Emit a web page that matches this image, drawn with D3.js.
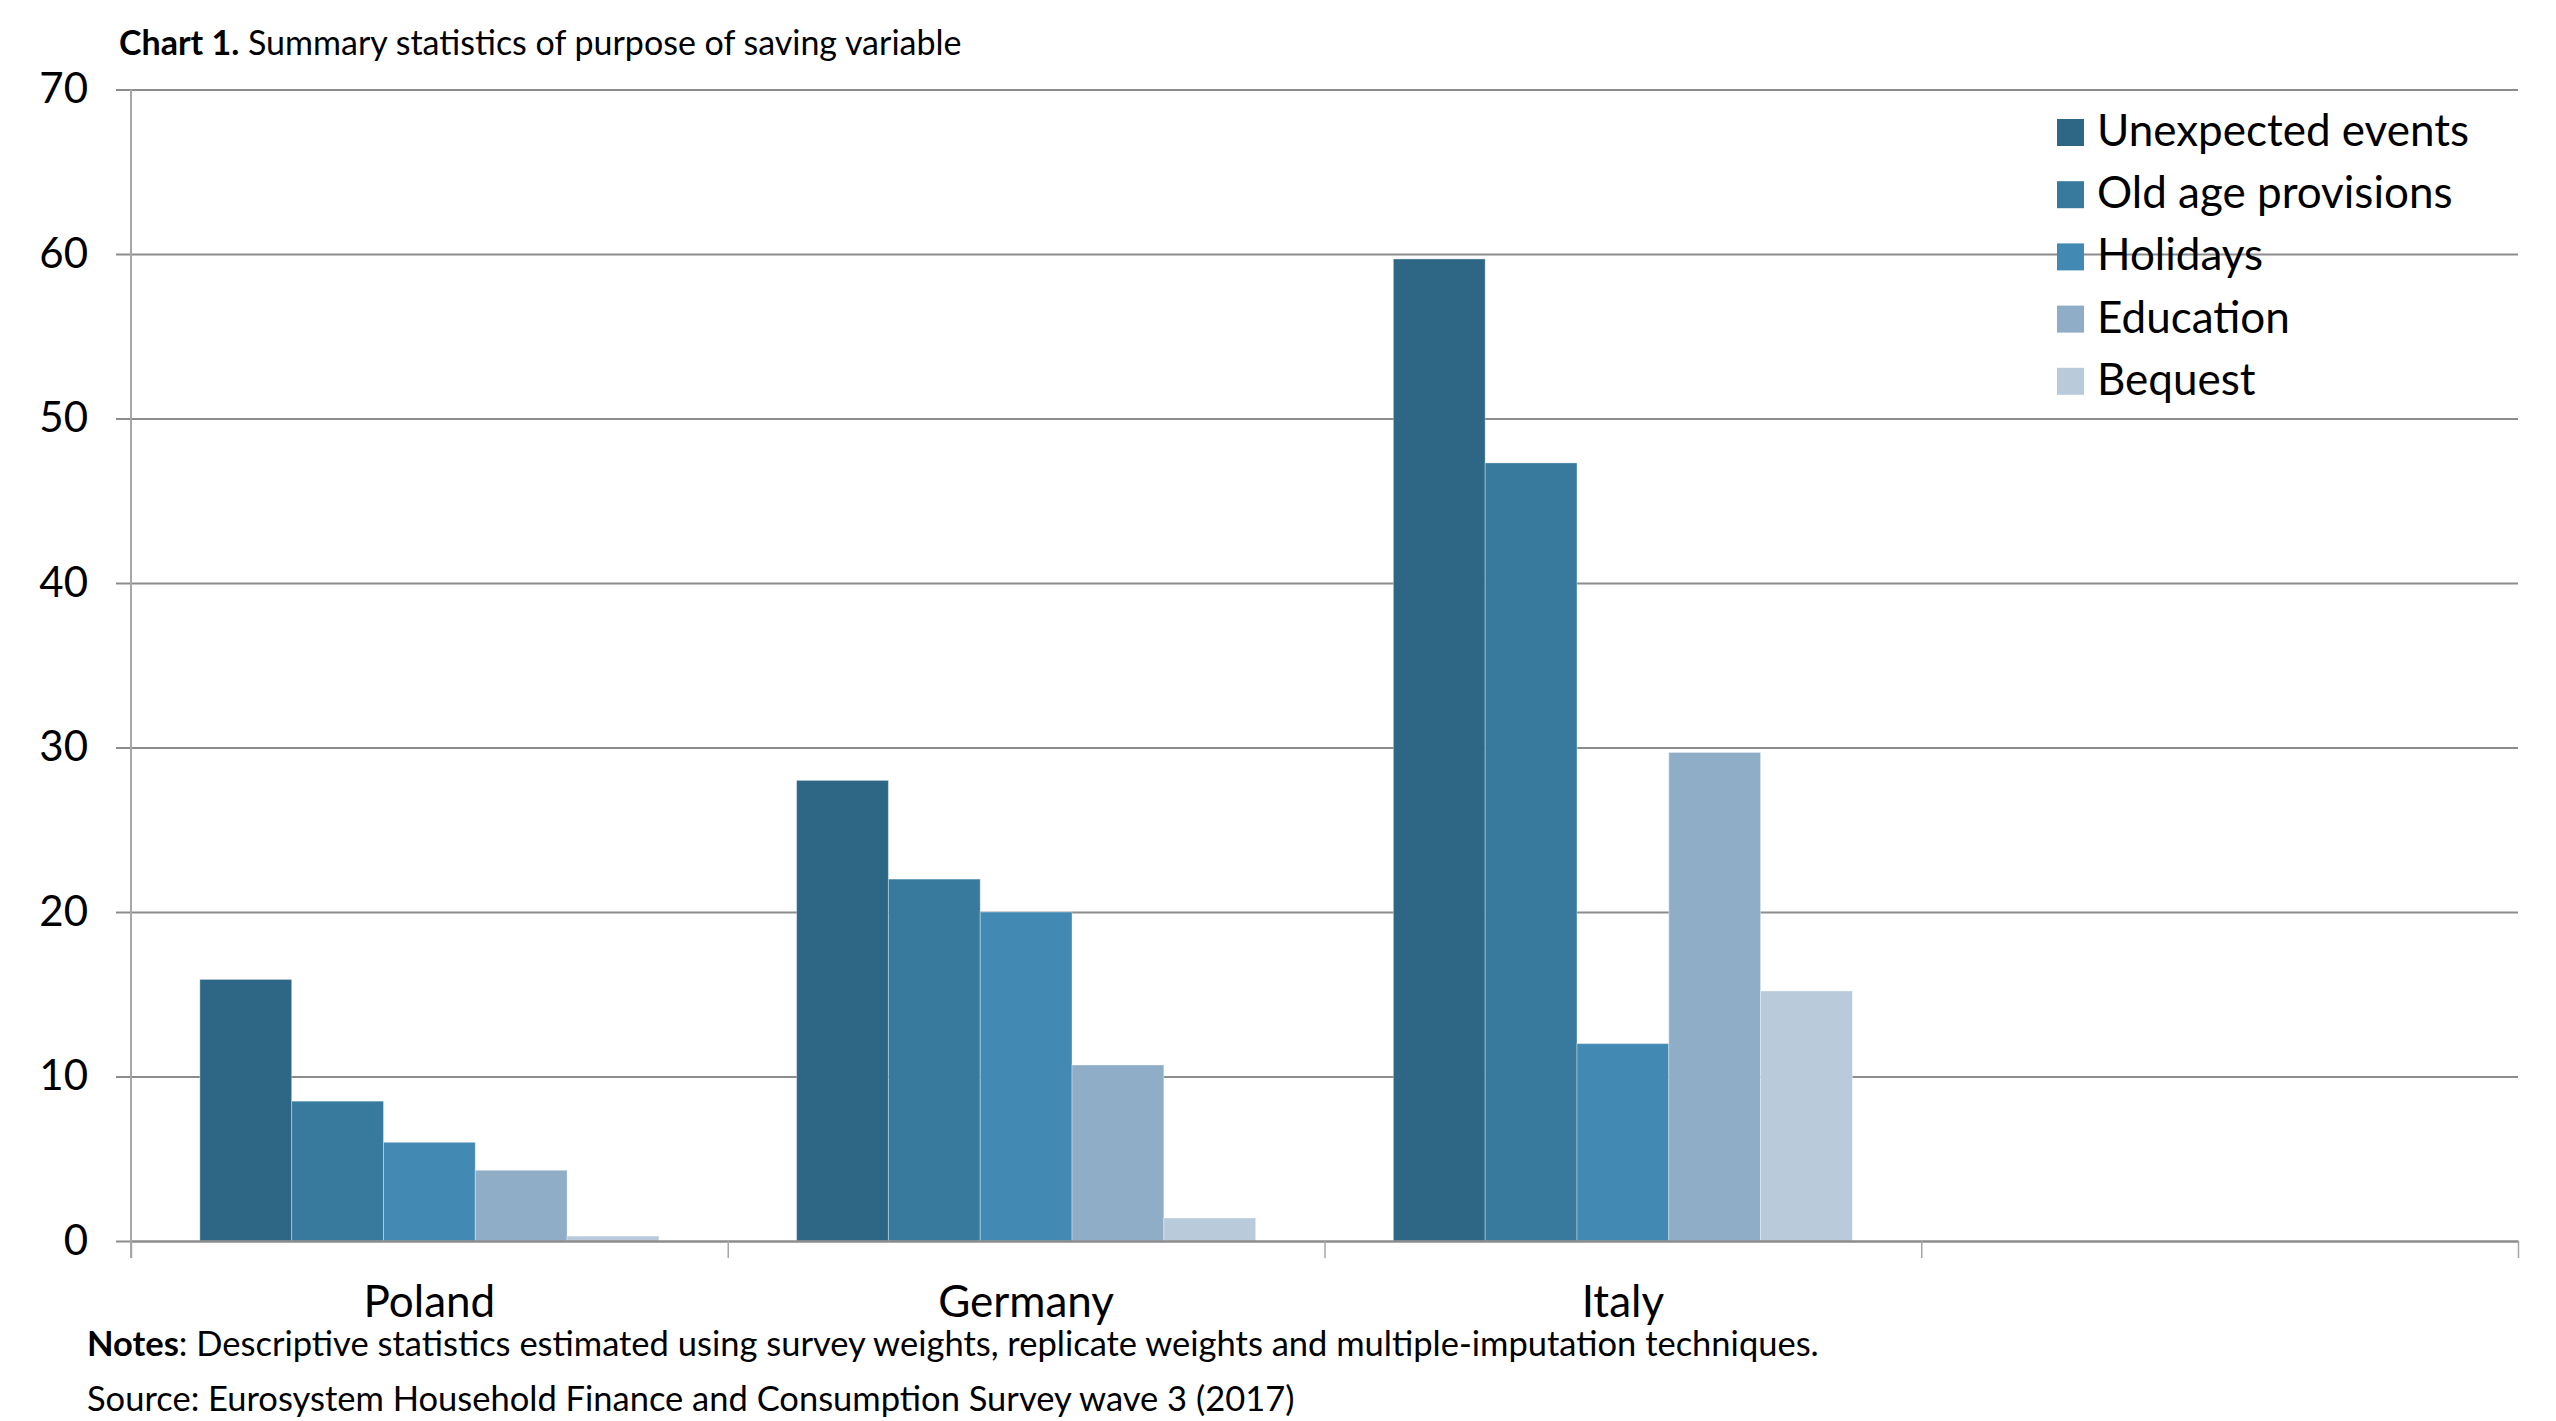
<!DOCTYPE html>
<html>
<head>
<meta charset="utf-8">
<script src="https://cdn.jsdelivr.net/npm/d3@7"></script>
<style>
  html, body { margin: 0; padding: 0; background: #ffffff; }
  svg { display: block; font-family: Lato, "Open Sans", sans-serif; }
</style>
</head>
<body>
<svg id="chart" width="2556" height="1421"></svg>
<script>
// ---- data ----
const categories = ["Poland", "Germany", "Italy", ""];
const seriesNames = ["Unexpected events", "Old age provisions", "Holidays", "Education", "Bequest"];
const unexpectedEvents = [15.9, 28.0, 59.7];
const oldAgeProvisions = [8.5, 22.0, 47.3];
const holidays = [6.0, 20.0, 12.0];
const education = [4.3, 10.7, 29.7];
const bequest = [0.3, 1.4, 15.2];
const yTicks = [0, 10, 20, 30, 40, 50, 60, 70];
const seriesColors = ["#2e6785", "#38799e", "#428ab4", "#8fadc7", "#b9cbda"];

const seriesValues = [unexpectedEvents, oldAgeProvisions, holidays, education, bequest];

// ---- layout ----
const svg = d3.select("#chart");
const plotLeft = 131, plotRight = 2518, plotTop = 89.5, plotBottom = 1241;
const gridColor = "#8c8c8c";

const x0 = d3.scaleBand().domain(categories).range([plotLeft, plotRight]).paddingInner(0).paddingOuter(0);
const x1 = d3.scaleBand().domain(seriesNames).range([0, x0.bandwidth()]).paddingInner(0).paddingOuter(0.75);
const y = d3.scaleLinear().domain([0, 70]).range([plotBottom, plotTop]);
const xEdge = d3.scaleLinear().domain([0, categories.length]).range([plotLeft, plotRight]);

// gridlines
const grid = svg.append("g").attr("transform", `translate(${plotLeft},0)`)
  .call(d3.axisRight(y).tickValues(yTicks.filter(v => v > 0)).tickSize(plotRight - plotLeft).tickFormat(""));
grid.select(".domain").remove();
grid.selectAll("line").attr("stroke", gridColor).attr("stroke-width", 2);

// bars
const groups = svg.append("g").selectAll("g")
  .data(categories.slice(0, unexpectedEvents.length))
  .join("g")
  .attr("transform", d => `translate(${x0(d)},0)`);

groups.selectAll("rect")
  .data((d, i) => seriesNames.map((s, j) => ({ s, j, v: seriesValues[j][i] })))
  .join("rect")
  .attr("x", d => x1(d.s))
  .attr("width", x1.bandwidth())
  .attr("y", d => y(d.v))
  .attr("height", d => y(0) - y(d.v))
  .attr("fill", d => seriesColors[d.j])
  .attr("stroke", "#ffffff")
  .attr("stroke-opacity", 0.35)
  .attr("stroke-width", 1);

// x axis baseline and edge ticks
const xEdgeAxis = svg.append("g").attr("transform", `translate(0,${plotBottom})`)
  .call(d3.axisBottom(xEdge).ticks(categories.length).tickSize(17).tickSizeOuter(0).tickFormat(""));
xEdgeAxis.select(".domain").attr("stroke", gridColor).attr("stroke-width", 2.5);
xEdgeAxis.selectAll(".tick line").attr("stroke", "#a6a6a6").attr("stroke-width", 1.5);

// category labels
const xLab = svg.append("g").attr("transform", `translate(0,${plotBottom})`)
  .call(d3.axisBottom(x0).tickSize(0).tickPadding(45));
xLab.select(".domain").remove();
xLab.selectAll("text").attr("font-size", 44).attr("fill", "#000").attr("font-family", "Lato");

// y axis
const yAx = svg.append("g").attr("transform", `translate(${plotLeft},0)`)
  .call(d3.axisLeft(y).tickValues(yTicks).tickSize(15).tickPadding(28).tickSizeOuter(0));
yAx.select(".domain").remove();
yAx.selectAll(".tick line").attr("stroke", gridColor).attr("stroke-width", 2);
yAx.selectAll("text").attr("font-size", 42).attr("fill", "#000").attr("font-family", "Lato");
svg.append("line")
  .attr("x1", plotLeft).attr("x2", plotLeft).attr("y1", plotTop).attr("y2", plotBottom + 17)
  .attr("stroke", "#a6a6a6").attr("stroke-width", 2);

// legend
const legend = svg.append("g").selectAll("g").data(seriesNames).join("g")
  .attr("transform", (d, i) => `translate(2057,${119 + i * 62.2})`);
legend.append("rect").attr("width", 27).attr("height", 27)
  .attr("fill", (d, i) => seriesColors[i]);
legend.append("text").attr("x", 40).attr("y", 27)
  .attr("font-size", 44).attr("fill", "#000").text(d => d);

// title
const title = svg.append("text").attr("x", 119).attr("y", 55).attr("font-size", 34).attr("fill", "#000");
title.append("tspan").attr("font-weight", "bold").text("Chart 1.");
title.append("tspan").text(" Summary statistics of purpose of saving variable");

// notes
const notes = svg.append("text").attr("x", 87).attr("y", 1356).attr("font-size", 34.5).attr("fill", "#000");
notes.append("tspan").attr("font-weight", "bold").text("Notes");
notes.append("tspan").text(": Descriptive statistics estimated using survey weights, replicate weights and multiple-imputation techniques.");

svg.append("text").attr("x", 87).attr("y", 1411).attr("font-size", 34.5).attr("fill", "#000")
  .text("Source: Eurosystem Household Finance and Consumption Survey wave 3 (2017)");
</script>
</body>
</html>
